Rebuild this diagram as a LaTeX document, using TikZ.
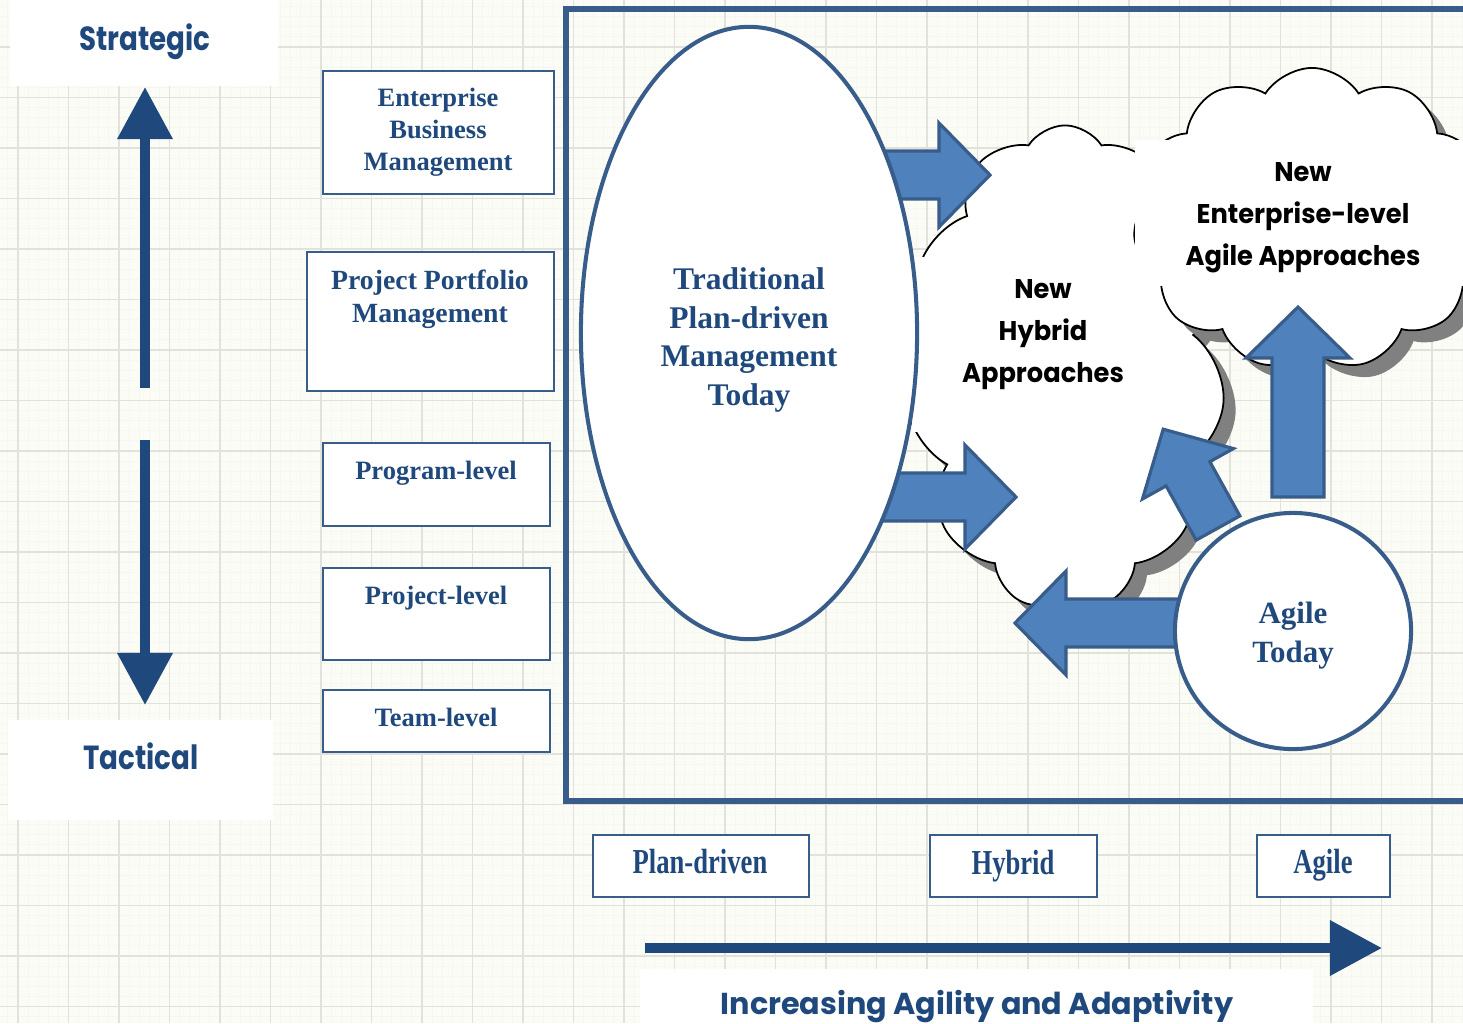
\documentclass[tikz,border=0pt]{standalone}
\usepackage{fontspec}
\setmainfont{Liberation Serif}
\newfontfamily\geo{Poppins}[FakeStretch=0.83]
\newfontfamily\geow{Poppins}
\newfontfamily\geoc{Poppins}[FakeStretch=0.95]
\newfontfamily\condserif{Liberation Serif}[FakeStretch=0.76]
\usetikzlibrary{shapes.geometric,shapes.symbols,shadows,arrows.meta}
\definecolor{navy}{RGB}{31,73,125}
\definecolor{edge}{RGB}{56,93,138}
\definecolor{afill}{RGB}{79,129,189}
\definecolor{bgc}{RGB}{252,252,246}
\definecolor{gridc}{RGB}{226,226,220}
\definecolor{gridm}{RGB}{247,247,241}
\definecolor{shade}{RGB}{128,128,128}
\newcommand\fsz[2]{\fontsize{#1}{#2}\selectfont}
\tikzset{
  box/.style={draw=edge, line width=0.45pt, fill=white, inner sep=0pt},
  whitebg/.style={fill=white, inner sep=0pt, draw=none},
  stext/.style={text=navy, align=center, inner sep=0pt, font=\fsz{7.54}{9.1}\bfseries},
  ctext/.style={text=navy, align=center, inner sep=0pt, font=\condserif\fsz{9.96}{11}\bfseries},
  geolabel/.style={text=navy, inner sep=0pt, font=\geo\fsz{9.5}{11}\bfseries},
  cloudtext/.style={text=black, align=center, inner sep=0pt, font=\geoc\fsz{7.7}{11.95}\bfseries},
  barrowst/.style={draw=edge, line width=0.9pt, fill=afill, line join=miter},
  cloudst/.style={cloud, cloud puffs=11, cloud puff arc=115, cloud ignores aspect,
     draw=black, line width=0.5pt, fill=white, inner sep=0pt,
     drop shadow={shadow xshift=0.12cm, shadow yshift=-0.12cm, fill=shade, opacity=1}},
  bigarrow/.style={navy, line width=2.85pt, -{Triangle[width=0.53cm,length=0.52cm]}}
}
\newcommand\blkarrow[5]{%
  \begin{scope}[shift={(#1,#2)}, rotate=#3]
    \filldraw[barrowst] (0,-#5) -- (#4,-#5) -- (#4,-52) -- ({#4+51},0) -- (#4,52) -- (#4,#5) -- (0,#5) -- cycle;
  \end{scope}}
\begin{document}
\begin{tikzpicture}[x=0.01cm, y=-0.01cm]
\useasboundingbox (0,0) rectangle (1463,1023);
\clip (0,0) rectangle (1463,1023);
% background and grid
\fill[bgc] (0,0) rectangle (1463,1023);
\foreach \i in {-1,...,144} \draw[gridm, line width=0.3pt] ({18+10.1*\i},0) -- ({18+10.1*\i},1023);
\foreach \j in {-5,...,98} \draw[gridm, line width=0.3pt] (0,{47+10.1*\j}) -- (1463,{47+10.1*\j});
\foreach \i in {0,...,28} \draw[gridc, line width=0.55pt] ({18+50.5*\i},0) -- ({18+50.5*\i},1023);
\foreach \j in {0,...,19} \draw[gridc, line width=0.55pt] (0,{47+50.5*\j}) -- (1463,{47+50.5*\j});

% label backgrounds
\node[whitebg, minimum width=2.68cm, minimum height=0.86cm] (sbg) at (144,43) {};
\node[whitebg, minimum width=2.65cm, minimum height=1.0cm] (tbg) at (140.5,770) {};
\node[whitebg, minimum width=6.73cm, minimum height=0.62cm] (ibg) at (976.5,1000) {};

% vertical and horizontal axis arrows
\coordinate (upS) at (145,388); \coordinate (upE) at (145,87);
\coordinate (dnS) at (145,440); \coordinate (dnE) at (145,705);
\coordinate (hS) at (645,948); \coordinate (hE) at (1382,948);
\draw[bigarrow] (upS) -- (upE);
\draw[bigarrow] (dnS) -- (dnE);
\draw[bigarrow] (hS) -- (hE);

% left boxes
\node[box, minimum width=2.31cm, minimum height=1.23cm] (ebm) at (438.5,132.5) {};
\node[box, minimum width=2.47cm, minimum height=1.39cm] (ppm) at (430.5,321.5) {};
\node[box, minimum width=2.27cm, minimum height=0.83cm] (prog) at (436.5,484.5) {};
\node[box, minimum width=2.27cm, minimum height=0.92cm] (proj) at (436.5,614) {};
\node[box, minimum width=2.27cm, minimum height=0.62cm] (team) at (436.5,721) {};
% bottom boxes
\node[box, minimum width=2.16cm, minimum height=0.62cm] (pd) at (701,866) {};
\node[box, minimum width=1.67cm, minimum height=0.62cm] (hy) at (1013.5,866) {};
\node[box, minimum width=1.33cm, minimum height=0.62cm] (ag) at (1323.5,866) {};

% big frame
\draw[edge, line width=1.45pt] (566,9) rectangle (1520,801);

% clouds
\node[cloudst, minimum width=3.2cm, minimum height=4.85cm] (hybcloud) at (1065,368) {};
\node[whitebg, minimum width=2.63cm, minimum height=1.75cm] (hybbg) at (1043.5,344.5) {};
\node[cloudst, minimum width=3.58cm, minimum height=3.02cm] (entcloud) at (1312,219) {};
\node[whitebg, minimum width=3.35cm, minimum height=1.46cm] (entbg) at (1302.5,213) {};

% block arrows behind ellipse
\blkarrow{860}{175}{0}{79}{24}
\blkarrow{860}{497}{0}{105}{24}

% ellipse
\node[ellipse, draw=edge, line width=1.15pt, fill=white, minimum width=3.36cm, minimum height=6.12cm,
      inner sep=0pt] (trad) at (749,333) {};
\node[text=navy, align=center, inner sep=0pt, font=\fsz{8.96}{10.95}\bfseries] (tradt) at (749,340)
      {Traditional\\Plan-driven\\Management\\Today};

% block arrows from Agile Today
\blkarrow{1200}{623}{180}{134}{24}
\blkarrow{1218}{528}{119}{62}{25}
\blkarrow{1298}{497}{90}{139}{26}

% agile circle
\node[circle, draw=edge, line width=1.15pt, fill=white, minimum size=2.36cm,
      inner sep=0pt] (agile) at (1293,631) {};
\node[text=navy, align=center, inner sep=0pt, font=\fsz{8.8}{11.1}\bfseries] (agilet) at (1293,636) {Agile\\Today};

% texts
\node[geolabel] (strat) at (145,42) {Strategic};
\node[geolabel] (tact) at (141,756) {Tactical};
\node[text=navy, inner sep=0pt, font=\geow\fsz{8.6}{10}\bfseries] (incr) at (977,1007) {Increasing Agility and Adaptivity};

\node[stext] (ebmt) at (438,132) {Enterprise\\Business\\Management};
\node[stext, font=\fsz{7.9}{9.4}\bfseries] (ppmt) at (430,299) {Project Portfolio\\Management};
\node[stext] (progt) at (436,473) {Program-level};
\node[stext] (projt) at (436,598) {Project-level};
\node[stext] (teamt) at (436,717) {Team-level};

\node[ctext] (pdt) at (700,861) {Plan-driven};
\node[ctext] (hyt) at (1013,866) {Hybrid};
\node[ctext] (agt) at (1323,865) {Agile};

\node[cloudtext] (hybt) at (1043,335) {New\\Hybrid\\Approaches};
\node[cloudtext] (entt) at (1303,218) {New\\Enterprise-level\\Agile Approaches};
\end{tikzpicture}
\end{document}
